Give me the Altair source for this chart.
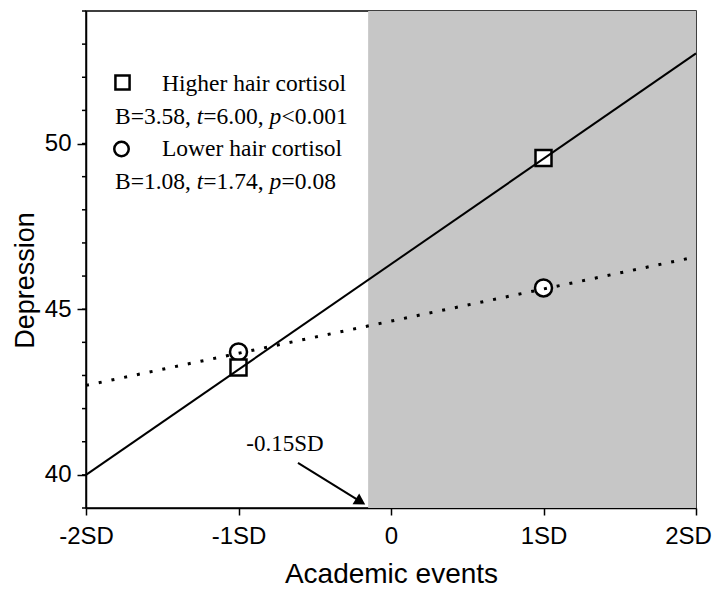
import altair as alt
import pandas as pd

# ---- data ----
x_ends = [-2, 2]
higher_line = [40.0, 52.72]
lower_line = [42.7, 46.58]
x_points = [-1, 1]
higher_points = [43.24, 49.56]
lower_points = [43.71, 45.64]
region_start = [-0.15]
region_end = [2]
x_tick_values = [-2, -1, 0, 1, 2]
x_tick_labels = ["-2SD", "-1SD", "0", "1SD", "2SD"]
y_tick_values = [40, 45, 50]
y_minor_ticks = list(range(39, 55))
annotation_text = "-0.15SD"
legend_titles = ["Higher hair cortisol", "Lower hair cortisol"]
stats_higher = ["B=3.58, ", "t", "=6.00, ", "p", "<0.001"]
stats_lower = ["B=1.08, ", "t", "=1.74, ", "p", "=0.08"]
stats_italic = [False, True, False, True, False]

W, H = 610, 497
XD = [-2, 2]
YD = [39, 54]
SERIF = "Liberation Serif"
SANS = "Liberation Sans"

xs = alt.Scale(domain=XD, nice=False, zero=False)
ys = alt.Scale(domain=YD, nice=False, zero=False)

label_expr = " : ".join(
    f"datum.value == {v} ? '{l}'" for v, l in zip(x_tick_values, x_tick_labels)
) + " : ''"

x_axis = alt.Axis(values=x_tick_values, labelExpr=label_expr, tickSize=7, tickWidth=1.5,
                  labelFontSize=24, labelFont=SANS, labelPadding=9, labelFlush=False,
                  labelOverlap=False,
                  labelOffset={"condition": {"test": f"datum.value == {XD[1]}", "value": -8},
                               "value": 0},
                  title="Academic events", titleFont=SANS,
                  titleFontSize=28, titleFontWeight="normal", titleBaseline="alphabetic",
                  titleY=74, domainColor="black", domainWidth=1.5, tickColor="black",
                  labelColor="black", titleColor="black", grid=False)
y_axis = alt.Axis(values=y_tick_values, tickSize=9, tickWidth=1.5, labelFontSize=24,
                  labelFont=SANS, labelPadding=6, labelFlush=False, labelOverlap=False,
                  title="Depression", titleFont=SANS, titleFontSize=27,
                  titleFontWeight="normal", titleAngle=270, titleBaseline="bottom",
                  titleAlign="center", titleX=-47, titleY=269, domainColor="black",
                  domainWidth=1.5, tickColor="black", labelColor="black",
                  titleColor="black", grid=False)

region_df = pd.DataFrame({"x": region_start, "x2": region_end, "y": [YD[0]], "y2": [YD[1]]})
region = alt.Chart(region_df).mark_rect(color="#c6c6c6").encode(
    x=alt.X("x:Q", scale=xs, axis=x_axis), x2="x2:Q",
    y=alt.Y("y:Q", scale=ys, axis=y_axis), y2="y2:Q")

minor_df = pd.DataFrame({"y": y_minor_ticks})
minor = alt.Chart(minor_df).mark_rule(color="black", strokeWidth=1.5).encode(
    y=alt.Y("y:Q", scale=ys), x=alt.value(-4), x2=alt.value(0))

pts_df = pd.DataFrame({"x": x_points, "hi": higher_points, "lo": lower_points})
circles = alt.Chart(pts_df).mark_point(shape="circle", size=289, filled=False, fill="white",
                                       fillOpacity=1, stroke="black", strokeWidth=2.5,
                                       opacity=1).encode(
    x=alt.X("x:Q", scale=xs), y=alt.Y("lo:Q", scale=ys))
squares = alt.Chart(pts_df).mark_point(shape="square", size=256, filled=False, fill="white",
                                       fillOpacity=1, stroke="black", strokeWidth=2.5,
                                       opacity=1).encode(
    x=alt.X("x:Q", scale=xs), y=alt.Y("hi:Q", scale=ys))

line_df = pd.DataFrame({"x": x_ends, "hi": higher_line, "lo": lower_line})
hi_line = alt.Chart(line_df).mark_line(color="black", strokeWidth=2).encode(
    x=alt.X("x:Q", scale=xs), y=alt.Y("hi:Q", scale=ys))
lo_line = alt.Chart(line_df).mark_line(color="black", strokeWidth=3, strokeDash=[3, 10],
                                       strokeCap="butt").encode(
    x=alt.X("x:Q", scale=xs), y=alt.Y("lo:Q", scale=ys))

one = pd.DataFrame({"_": [0]})

def txt(s, px, py, italic=False, size=23.5):
    return alt.Chart(one).mark_text(text=s, font=SERIF, fontSize=size, align="left",
                                    baseline="alphabetic", color="black",
                                    fontStyle="italic" if italic else "normal").encode(
        x=alt.value(px), y=alt.value(py))

legend_layers = []
legend_layers.append(alt.Chart(one).mark_point(shape="square", size=200, filled=False,
                                               stroke="black", strokeWidth=2.5, opacity=1).encode(
    x=alt.value(36.5), y=alt.value(71.5)))
legend_layers.append(alt.Chart(one).mark_point(shape="circle", size=210, filled=False,
                                               stroke="black", strokeWidth=2.5, opacity=1).encode(
    x=alt.value(35.5), y=alt.value(138)))
legend_layers.append(txt(legend_titles[0], 76, 80))
legend_layers.append(txt(legend_titles[1], 76, 145))
seg_x = [29, 110.8, 117.3, 183.6, 195.6]
for s, it, px in zip(stats_higher, stats_italic, seg_x):
    legend_layers.append(txt(s, px, 113, it))
for s, it, px in zip(stats_lower, stats_italic, seg_x):
    legend_layers.append(txt(s, px, 178, it))

# annotation arrow
arrow_df = pd.DataFrame({"x": [-0.61], "y": [40.36], "x2": [-0.21], "y2": [39.22]})
arrow_line = alt.Chart(arrow_df).mark_rule(color="black", strokeWidth=2).encode(
    x=alt.X("x:Q", scale=xs), y=alt.Y("y:Q", scale=ys), x2="x2:Q", y2="y2:Q")
arrow_head = alt.Chart(arrow_df).mark_point(shape="triangle", size=160, filled=True,
                                            color="black", angle=121.6, opacity=1).encode(
    x=alt.X("x2:Q", scale=xs), y=alt.Y("y2:Q", scale=ys))
ann_df = pd.DataFrame({"x": [-0.695], "y": [40.72], "t": [annotation_text]})
ann_text = alt.Chart(ann_df).mark_text(font=SERIF, fontSize=23, align="center",
                                       baseline="alphabetic", color="black").encode(
    x=alt.X("x:Q", scale=xs), y=alt.Y("y:Q", scale=ys), text="t:N")

chart = alt.layer(region, minor, circles, squares, hi_line, lo_line,
                  arrow_line, arrow_head, ann_text, *legend_layers).properties(
    width=W, height=H,
    autosize=alt.AutoSizeParams(type="none"),
    padding={"left": 78, "top": 3, "right": 20, "bottom": 80},
    background="white",
).configure_view(stroke="black", strokeWidth=1.5)

chart.save("out.html", embed_options={"renderer": "svg", "actions": False})
